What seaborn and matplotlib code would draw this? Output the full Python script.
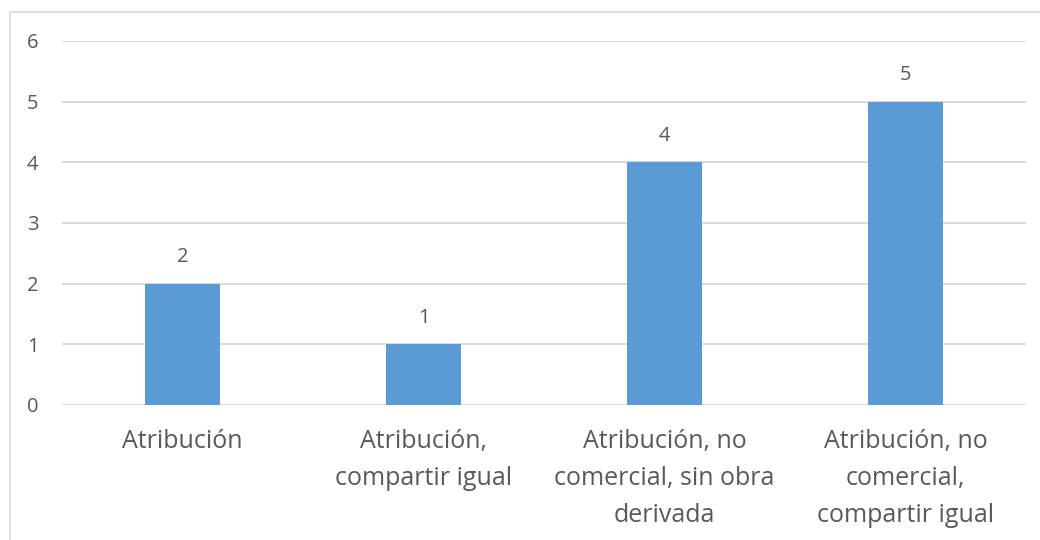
import matplotlib
matplotlib.use("Agg")
import matplotlib.pyplot as plt
import seaborn as sns
import pandas as pd
from matplotlib.patches import Rectangle

categories = [
    "Atribución",
    "Atribución,\ncompartir igual",
    "Atribución, no\ncomercial, sin obra\nderivada",
    "Atribución, no\ncomercial,\ncompartir igual",
]
values = [2, 1, 4, 5]
y_ticks = [0, 1, 2, 3, 4, 5, 6]

bar_color = "#5B9BD5"
text_color = "#595959"
grid_color = "#D9D9D9"

sns.set_theme(style="white")
plt.rcParams["font.family"] = ["Open Sans", "DejaVu Sans"]

df = pd.DataFrame({"categoria": categories, "valor": values})

fig = plt.figure(figsize=(10.4, 5.4), dpi=100)
ax = fig.add_axes([62 / 1040, 1 - 405 / 540, (1026 - 62) / 1040, (405 - 41) / 540])

# chart frame
fig.patches.append(Rectangle((10 / 1040, -0.1), 1.2, 1 - 12 / 540 + 0.1,
                             transform=fig.transFigure, fill=False,
                             edgecolor=grid_color, linewidth=1.2))

sns.barplot(data=df, x="categoria", y="valor", color=bar_color, width=0.31,
            saturation=1, linewidth=0, ax=ax, zorder=3)

ax.set_ylim(0, 6)
ax.set_xlim(-0.5, len(categories) - 0.5)
ax.set_yticks(y_ticks)
ax.yaxis.grid(True, color=grid_color, linewidth=1.4, zorder=0)
ax.set_axisbelow(True)
for s in ax.spines.values():
    s.set_visible(False)
ax.set_xlabel("")
ax.set_ylabel("")
ax.tick_params(axis="y", length=0, pad=17, labelsize=14.5, labelcolor=text_color)
ax.tick_params(axis="x", length=0, pad=17, labelsize=18, labelcolor=text_color)
for lbl in ax.get_xticklabels():
    lbl.set_linespacing(1.65)
    lbl.set_verticalalignment("top")

for cont in ax.containers:
    ax.bar_label(cont, labels=[str(v) for v in values], padding=12,
                 fontsize=14.5, color=text_color)

fig.savefig("out.png", dpi=100, facecolor="white")
